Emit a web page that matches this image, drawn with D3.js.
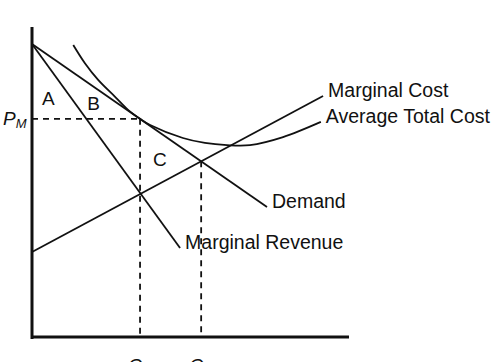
<!DOCTYPE html>
<html>
<head>
<meta charset="utf-8">
<script src="https://cdn.jsdelivr.net/npm/d3@7"></script>
<style>
  body { margin: 0; background: #fff; }
  text { font-family: "Liberation Sans", Arial, Helvetica, sans-serif; fill: #111; }
</style>
</head>
<body>
<script>
var w = 504, h = 362;

// values (quantity, price)
var demand = [[0, 94.8], [74.6, 42.1]];
var marginalRevenue = [[0, 94.8], [47.0, 28.8]];
var marginalCost = [[0, 27.5], [92.4, 78.0]];
var averageTotalCost = [
  [13.1, 94.5], [16.8, 88.6], [21.0, 83.2], [26.3, 77.8], [30.5, 73.5],
  [34.3, 70.6], [37.5, 68.6], [47.9, 64.4], [54.9, 62.8], [61.9, 62.1],
  [69.2, 62.1], [79.7, 64.7], [91.7, 69.6]
];
var curveNames = ["Demand", "Marginal Revenue", "Marginal Cost", "Average Total Cost"];
var keyQuantities = [34.3, 53.7];      // Q_M, Q_C
var keyPrices = [70.6, 56.9];          // price at Q_M (P_M) and at Q_C
var quantityLabels = [["Q", "M"], ["Q", "C"]];
var priceLabels = [["P", "M"]];
var areaNames = ["A", "B", "C"];
var areaSpots = [[3.2, 75.1], [17.5, 73.5], [38.4, 55.3]];

var svg = d3.select("body")
  .append("svg")
  .attr("width", w)
  .attr("height", h);

var xScale = d3.scaleLinear().domain([0, 100]).range([32, 347]);
var yScale = d3.scaleLinear().domain([0, 100]).range([337, 28]);

var line = d3.line()
  .x(d => xScale(d[0]))
  .y(d => yScale(d[1]));

// dashed guides
var guides = svg.append("g")
  .attr("stroke", "#111")
  .attr("stroke-width", 1.8)
  .attr("stroke-dasharray", "6,5");

guides.append("path")
  .attr("fill", "none")
  .attr("d", line([[0, keyPrices[0]], [keyQuantities[0], keyPrices[0]]]));

keyQuantities.forEach((q, i) => {
  guides.append("path")
    .attr("fill", "none")
    .attr("d", line([[q, keyPrices[i]], [q, 0]]));
});

// curves
var curves = [demand, marginalRevenue, marginalCost];
curves.forEach(c => {
  svg.append("path")
    .attr("d", line(c))
    .attr("fill", "none")
    .attr("stroke", "#111")
    .attr("stroke-width", 1.8);
});

svg.append("path")
  .attr("d", line.curve(d3.curveCatmullRom)(averageTotalCost))
  .attr("fill", "none")
  .attr("stroke", "#111")
  .attr("stroke-width", 1.8);

// curve labels at line ends
var ends = [demand, marginalRevenue, marginalCost, averageTotalCost].map(c => c[c.length - 1]);
svg.selectAll("text.curve")
  .data(curveNames)
  .enter()
  .append("text")
  .attr("class", "curve")
  .attr("x", (d, i) => xScale(ends[i][0]) + 5)
  .attr("y", (d, i) => yScale(ends[i][1]) + 1)
  .attr("font-size", "19.5px")
  .text(d => d);

// area letters
svg.selectAll("text.area")
  .data(areaNames)
  .enter()
  .append("text")
  .attr("class", "area")
  .attr("x", (d, i) => xScale(areaSpots[i][0]))
  .attr("y", (d, i) => yScale(areaSpots[i][1]))
  .attr("font-size", "19px")
  .text(d => d);

// axes
var xAxis = d3.axisBottom(xScale).tickSize(0).tickValues([]);
var yAxis = d3.axisLeft(yScale).tickSize(0).tickValues([]);

var gx = svg.append("g")
  .attr("transform", "translate(0," + 336.5 + ")")
  .call(xAxis);
var gy = svg.append("g")
  .attr("transform", "translate(31.5,0)")
  .call(yAxis);
[gx, gy].forEach(g => g.select(".domain")
  .attr("stroke", "#111")
  .attr("stroke-width", 3)
  .attr("stroke-linecap", "square"));

// axis labels with subscripts (cut by the bottom edge, as in the picture)
quantityLabels.forEach((lab, i) => {
  var t = svg.append("text")
    .attr("x", xScale(keyQuantities[i]) - 12)
    .attr("y", 372)
    .attr("font-size", "19px")
    .attr("font-style", "italic");
  t.append("tspan").text(lab[0]);
  t.append("tspan").attr("font-size", "13px").attr("dy", 3).text(lab[1]);
});

priceLabels.forEach((lab, i) => {
  var t = svg.append("text")
    .attr("x", 3)
    .attr("y", yScale(keyPrices[i]) + 6)
    .attr("font-size", "19px")
    .attr("font-style", "italic");
  t.append("tspan").text(lab[0]);
  t.append("tspan").attr("font-size", "13px").attr("dy", 3).text(lab[1]);
});
</script>
</body>
</html>
